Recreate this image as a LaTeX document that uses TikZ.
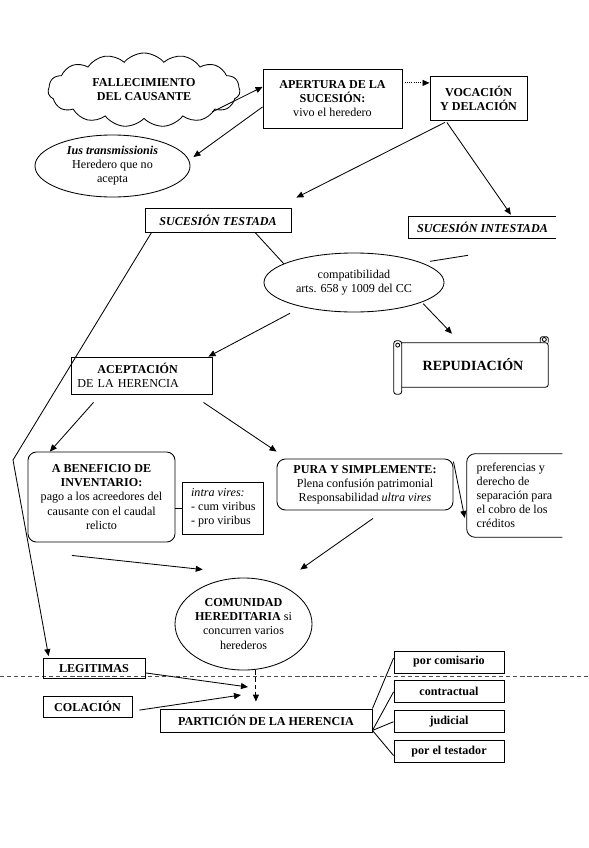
\documentclass[tikz,border=0pt]{standalone}
\usepackage{fontspec}
\setmainfont{Liberation Serif}
\usetikzlibrary{positioning,arrows.meta,shapes.geometric,shapes.symbols}

\begin{document}
\begin{tikzpicture}[
    x=0.025cm, y=-0.025cm,
    every node/.style={font=\fontsize{8.6}{10}\selectfont},
    box/.style={draw, line width=0.6pt, align=center, inner sep=1pt},
    rbox/.style={box, rounded corners=6pt},
    opbox/.style={align=center, inner sep=1pt},
    oval/.style={draw, ellipse, line width=0.6pt, align=center, inner sep=0pt},
    formbox/.style={box, minimum width=2.75cm, minimum height=0.55cm},
    link/.style={line width=0.6pt},
    arrow/.style={link, -{Triangle[length=1.75mm,width=1.5mm]}},
    dotarrow/.style={arrow, densely dotted},
    dasharrow/.style={arrow, densely dashed},
    sepline/.style={densely dashed, line width=0.5pt, black!70}
]
    \useasboundingbox (0,0) rectangle (589,848);

    % Separator
    \draw[sepline] (0,676) -- (589,676);

    % Row 1: death, opening, vocation
    \node[cloud, cloud puffs=15, cloud puff arc=100, cloud ignores aspect, draw, link, minimum width=4.8cm, minimum height=1.85cm, align=center, inner sep=0pt] (falle) at (144,90) {\textbf{FALLECIMIENTO}\\\textbf{DEL CAUSANTE}};
    \node[box, minimum width=3.475cm, minimum height=1.475cm] (apertura) at (332.5,98.5) {\textbf{APERTURA DE LA}\\\textbf{SUCESIÓN:}\\vivo el heredero};
    \node[box, minimum width=2.425cm, minimum height=1.1cm] (vocacion) at (478.5,98) {\textbf{VOCACIÓN}\\\textbf{Y DELACIÓN}};
    \node[oval, minimum width=3.875cm, minimum height=1.55cm] (ius) at (112.5,166) {\textbf{\textit{Ius transmissionis}}\\Heredero que no\\acepta};

    % Row 2: testate and intestate
    \node[box, minimum width=3.65cm, minimum height=0.6cm] (testada) at (218,220) {\textbf{\textit{SUCESIÓN TESTADA}}};
    \node[opbox, minimum width=3.675cm, minimum height=0.525cm] (intestada) at (482.5,227.5) {\textbf{\textit{SUCESIÓN INTESTADA}}};
    \draw[link] (intestada.north east) -- (intestada.north west) -- (intestada.south west) -- (intestada.south east);
    \node[oval, minimum width=4.5cm, minimum height=1.475cm] (compat) at (354,282.5) {compatibilidad\\arts. 658 y 1009 del CC};

    % Row 3: accept or repudiate
    \node[box, minimum width=3.525cm, minimum height=0.925cm, text width=3.2cm, align=left] (aceptacion) at (141.5,375.5) {\hspace*{0.5cm}\textbf{ACEPTACIÓN}\\DE LA HERENCIA};
    \node[minimum width=3.75cm, minimum height=1.1cm, font=\fontsize{10}{12}\selectfont\bfseries] (repud) at (473,365) {REPUDIACIÓN};
    \draw[link, rounded corners=2pt] (repud.north west) -- (repud.north east) -- (repud.south east) -- (repud.south west);
    \draw[link, rounded corners=1.5pt] ([xshift=-0.2cm]repud.north east) -- ([shift={(-0.2cm,0.15cm)}]repud.north east) -- ([yshift=0.15cm]repud.north east) -- (repud.north east);
    \draw[link] ([shift={(-0.1cm,0.08cm)}]repud.north east) circle (0.05cm);
    \draw[link, fill=white, rounded corners=2pt] ([shift={(-0.1cm,0.05cm)}]repud.north west) rectangle ([shift={(0.1cm,-0.175cm)}]repud.south west);
    \draw[link] ([yshift=-0.06cm]repud.north west) circle (0.05cm);

    % Row 4: kinds of acceptance
    \node[rbox, minimum width=3.675cm, minimum height=2.25cm] (beneficio) at (101.5,497) {\textbf{A BENEFICIO DE}\\\textbf{INVENTARIO:}\\pago a los acreedores del\\causante con el caudal\\relicto};
    \node[box, minimum width=2.025cm, minimum height=1.3cm, align=left, right=0.175cm of beneficio, yshift=-0.275cm] (intra) {\textit{intra vires:}\\- cum viribus\\- pro viribus};
    \node[rbox, minimum width=4.4cm, minimum height=1.275cm] (pura) at (365,484.5) {\textbf{PURA Y SIMPLEMENTE:}\\Plena confusión patrimonial\\Responsabilidad \textit{ultra vires}};
    \node[opbox, minimum width=2.375cm, minimum height=2.075cm, align=left] (prefer) at (514.5,495.5) {preferencias y\\derecho de\\separación para\\el cobro de los\\créditos};
    \draw[link, rounded corners=6pt] (prefer.north east) -- (prefer.north west) -- (prefer.south west) -- (prefer.south east);

    % Row 5: community and partition
    \node[oval, minimum width=3.425cm, minimum height=2.3cm] (comunidad) at (243.5,624) {\textbf{COMUNIDAD}\\\textbf{HEREDITARIA} si\\concurren varios\\herederos};
    \node[box, minimum width=2.55cm, minimum height=0.5cm] (legitimas) at (94,668.5) {\textbf{LEGITIMAS}};
    \node[box, minimum width=2.225cm, minimum height=0.525cm] (colacion) at (87.5,706.5) {\textbf{COLACIÓN}};
    \node[box, minimum width=5.3cm, minimum height=0.575cm] (particion) at (266,720.5) {\textbf{PARTICIÓN DE LA HERENCIA}};

    % Forms of partition
    \node[formbox] (comisario) at (449,662) {\textbf{por comisario}};
    \node[formbox, below=0.175cm of comisario] (contractual) {\textbf{contractual}};
    \node[formbox, below=0.175cm of contractual] (judicial) {\textbf{judicial}};
    \node[formbox, below=0.175cm of judicial] (testador) {\textbf{por el testador}};

    \coordinate (kink) at (13,460);
    \coordinate (legtip) at (248,687);
    \coordinate (coltip) at (241,695);
    \coordinate (fan) at ([yshift=0.05cm]particion.south east);

    % Draw arrows
    \draw[arrow] ([shift={(1.7cm,-0.55cm)}]falle.center) -- ([yshift=0.29cm]apertura.west);
    \draw[arrow] ([yshift=-0.21cm]apertura.west) -- ([shift={(0.075cm,0.225cm)}]ius.east);
    \draw[dotarrow] ([yshift=0.39cm]apertura.east) -- ([yshift=0.39cm]apertura.east -| vocacion.west);
    \draw[arrow] ([shift={(-0.84cm,-0.05cm)}]vocacion.south) -- ([shift={(0.125cm,0.25cm)}]testada.north east);
    \draw[arrow] ([shift={(-0.79cm,-0.05cm)}]vocacion.south) -- ([shift={(0.71cm,0.05cm)}]intestada.north);
    \draw[link] ([xshift=0.925cm]testada.south) -- (compat.165);
    \draw[link] ([shift={(-0.36cm,-0.425cm)}]intestada.south) -- ([xshift=0.3cm]compat.north east);
    \draw[arrow] ([yshift=-0.24cm]compat.south west) -- ([xshift=-0.1cm]aceptacion.north east);
    \draw[arrow] ([xshift=0.13cm]compat.south east) -- ([shift={(-0.525cm,0.225cm)}]repud.north);
    \draw[arrow] ([xshift=0.175cm]testada.south west) -- (kink) -- ([shift={(0.15cm,0.05cm)}]legitimas.north west);
    \draw[arrow] ([shift={(-1.2cm,-0.2cm)}]aceptacion.south) -- ([xshift=-1.29cm]beneficio.north);
    \draw[arrow] ([shift={(1.55cm,-0.2cm)}]aceptacion.south) -- ([yshift=0.175cm]pura.north west);
    \draw[link] (beneficio.east |- intra.west) -- (intra.west);
    \draw[arrow] ([yshift=-0.075cm]pura.north east) -- ([shift={(-0.05cm,-0.56cm)}]prefer.west);
    \draw[arrow] ([shift={(-0.74cm,-0.325cm)}]beneficio.south) -- ([shift={(0.2cm,0.54cm)}]comunidad.north west);
    \draw[arrow] ([shift={(0.2cm,-0.2cm)}]pura.south) -- ([shift={(0.2cm,0.54cm)}]comunidad.north east);
    \draw[dasharrow, shorten >=0.175cm] ([xshift=0.31cm]comunidad.south) -- ([xshift=0.31cm]comunidad.south |- particion.north);
    \draw[arrow] ([yshift=-0.11cm]legitimas.east) -- (legtip);
    \draw[arrow] ([shift={(0.175cm,-0.09cm)}]colacion.east) -- (coltip);
    \draw[link] (particion.north east) -- ([yshift=0.1cm]comisario.west);
    \draw[link] (fan) -- (contractual.west);
    \draw[link] (fan) -- (judicial.west);
    \draw[link] (fan) -- ([yshift=-0.1cm]testador.west);
\end{tikzpicture}
\end{document}
